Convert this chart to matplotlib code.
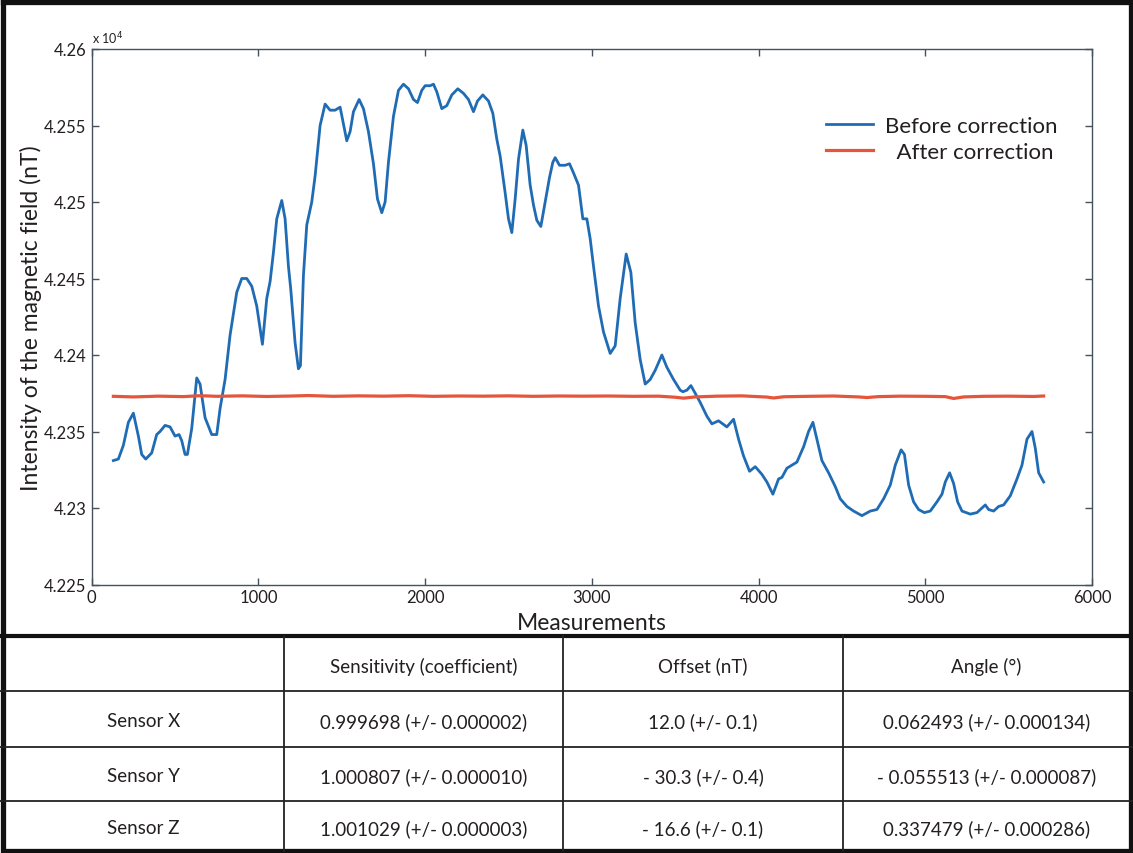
import matplotlib
matplotlib.use('Agg')
import matplotlib.pyplot as plt
from matplotlib.ticker import FuncFormatter

plt.rcParams['font.family'] = ['Lato', 'DejaVu Sans']

# ---------------- data ----------------
before_x = [130, 160, 190, 220, 250, 280, 300, 324, 360, 390,
            410, 440, 470, 500, 524, 540, 560, 574, 600, 630,
            650, 680, 720, 750, 770, 800, 830, 870, 900, 930,
            960, 990, 1024, 1050, 1070, 1090, 1110, 1140, 1160, 1180,
            1194, 1220, 1240, 1252, 1270, 1290, 1320, 1340, 1370, 1400,
            1430, 1460, 1490, 1530, 1550, 1570, 1604, 1630, 1660, 1690,
            1714, 1740, 1760, 1780, 1810, 1840, 1870, 1900, 1930, 1954,
            1980, 2000, 2030, 2050, 2070, 2100, 2130, 2160, 2196, 2230,
            2260, 2290, 2314, 2346, 2380, 2406, 2430, 2450, 2480, 2500,
            2520, 2540, 2560, 2586, 2606, 2630, 2650, 2670, 2694, 2720,
            2746, 2766, 2780, 2806, 2840, 2866, 2890, 2920, 2946, 2970,
            2990, 3010, 3040, 3070, 3110, 3140, 3170, 3206, 3234, 3260,
            3290, 3320, 3350, 3380, 3420, 3450, 3490, 3530, 3546, 3570,
            3594, 3620, 3650, 3690, 3720, 3760, 3810, 3850, 3880, 3910,
            3946, 3980, 4020, 4050, 4086, 4120, 4140, 4170, 4200, 4230,
            4270, 4300, 4326, 4350, 4380, 4420, 4460, 4490, 4530, 4570,
            4620, 4670, 4710, 4750, 4790, 4820, 4855, 4875, 4900, 4930,
            4960, 4994, 5030, 5070, 5100, 5120, 5146, 5170, 5194, 5220,
            5270, 5310, 5360, 5380, 5410, 5440, 5470, 5510, 5550, 5580,
            5610, 5640, 5660, 5680, 5710]
before_y = [42331, 42332, 42341, 42356, 42362, 42347, 42335, 42332, 42336, 42348,
            42350, 42354, 42353, 42347, 42348, 42344, 42335, 42335, 42352, 42385,
            42381, 42359, 42348, 42348, 42365, 42384, 42413, 42441, 42450, 42450,
            42445, 42432, 42407, 42437, 42448, 42467, 42489, 42501, 42489, 42458,
            42443, 42408, 42391, 42393, 42452, 42485, 42500, 42517, 42550, 42564,
            42560, 42560, 42562, 42540, 42546, 42559, 42567, 42561, 42546, 42525,
            42502, 42493, 42500, 42526, 42556, 42573, 42577, 42574, 42567, 42565,
            42573, 42576, 42576, 42577, 42572, 42561, 42563, 42570, 42574, 42571,
            42567, 42559, 42566, 42570, 42566, 42558, 42541, 42530, 42506, 42489,
            42480, 42502, 42528, 42547, 42537, 42511, 42498, 42488, 42484, 42500,
            42516, 42526, 42529, 42524, 42524, 42525, 42519, 42511, 42489, 42489,
            42476, 42458, 42432, 42415, 42401, 42406, 42437, 42466, 42454, 42421,
            42397, 42381, 42384, 42390, 42400, 42392, 42384, 42377, 42376, 42377,
            42380, 42375, 42369, 42360, 42355, 42357, 42353, 42358, 42345, 42334,
            42324, 42327, 42322, 42317, 42309, 42319, 42320, 42326, 42328, 42330,
            42340, 42350, 42356, 42345, 42331, 42323, 42314, 42306, 42301, 42298,
            42295, 42298, 42299, 42306, 42315, 42328, 42338, 42335, 42315, 42304,
            42299, 42297, 42298, 42304, 42309, 42317, 42323, 42316, 42304, 42298,
            42296, 42297, 42302, 42299, 42298, 42301, 42302, 42308, 42319, 42328,
            42345, 42350, 42339, 42323, 42317]

after_x = [130, 250, 400, 550, 650, 750, 900, 1050, 1200, 1300,
           1450, 1600, 1750, 1900, 2050, 2200, 2350, 2500, 2650, 2800,
           2950, 3100, 3250, 3400, 3500, 3550, 3620, 3750, 3900, 4050,
           4090, 4150, 4300, 4450, 4600, 4650, 4720, 4850, 5000, 5120,
           5170, 5230, 5350, 5500, 5650, 5710]
after_y = [42373.0, 42372.6, 42373.1, 42372.8, 42373.4, 42373.0, 42373.3, 42372.9, 42373.2, 42373.5,
           42373.0, 42373.3, 42373.1, 42373.4, 42373.0, 42373.2, 42373.1, 42373.3, 42373.0, 42373.2,
           42373.1, 42373.2, 42373.0, 42373.1, 42372.4, 42371.8, 42372.6, 42373.1, 42373.3, 42372.5,
           42371.9, 42372.7, 42373.0, 42373.2, 42372.6, 42372.2, 42372.8, 42373.1, 42373.0, 42372.8,
           42371.6, 42372.6, 42373.0, 42373.1, 42372.9, 42373.2]

x_ticks = [0, 1000, 2000, 3000, 4000, 5000, 6000]
y_ticks = [42250, 42300, 42350, 42400, 42450, 42500, 42550, 42600]

col_labels = ['', 'Sensitivity (coefficient)', 'Offset (nT)', 'Angle (°)']
row_labels = ['Sensor X', 'Sensor Y', 'Sensor Z']
sensitivity = ['0.999698 (+/- 0.000002)', '1.000807 (+/- 0.000010)', '1.001029 (+/- 0.000003)']
offset = ['12.0 (+/- 0.1)', '- 30.3 (+/- 0.4)', '- 16.6 (+/- 0.1)']
angle = ['0.062493 (+/- 0.000134)', '- 0.055513 (+/- 0.000087)', '0.337479 (+/- 0.000286)']

# ---------------- layout ----------------
W, H = 1133, 854
BLUE = '#1f6cb5'
RED = '#e4553c'
SPINE = '#45525e'
TXT = '#231f20'

fig = plt.figure(figsize=(W / 100, H / 100), dpi=100)
fig.patch.set_facecolor('white')

# background axes for frame and table (pixel coordinates)
bg = fig.add_axes([0, 0, 1, 1], zorder=0)
bg.set_xlim(0, W)
bg.set_ylim(H, 0)
bg.axis('off')

ax_l, ax_r, ax_t, ax_b = 91.7, 1092.0, 50.0, 585.5
ax = fig.add_axes([ax_l / W, 1 - ax_b / H, (ax_r - ax_l) / W, (ax_b - ax_t) / H], zorder=2)
ax.plot(before_x, before_y, color=BLUE, lw=2.0, label='Before correction', solid_joinstyle='round')
ax.plot(after_x, after_y, color=RED, lw=2.3, label='  After correction')
ax.set_xlim(0, 6000)
ax.set_ylim(42250, 42600)
ax.set_xticks(x_ticks)
ax.set_yticks(y_ticks)
ax.yaxis.set_major_formatter(FuncFormatter(lambda v, p: f'{v / 1e4:g}'))
ax.tick_params(direction='in', length=5, width=1, color=SPINE, top=True, right=True,
               labelsize=12, labelcolor=TXT)
ax.tick_params(axis='x', pad=3)
ax.tick_params(axis='y', pad=4)
for s in ax.spines.values():
    s.set_color(SPINE)
    s.set_linewidth(1.0)
ax.set_xlabel('Measurements', fontsize=16.5, color=TXT, labelpad=5)
ax.set_ylabel('Intensity of the magnetic field (nT)', fontsize=16.5, color=TXT, labelpad=1)
ax.text(0.0, 1.005, r'x 10$^{4}$', transform=ax.transAxes, fontsize=9, color=TXT,
        ha='left', va='bottom')

leg = ax.legend(loc='upper left', bbox_to_anchor=(826 / W, 1 - 117 / H),
                bbox_transform=fig.transFigure, frameon=False, fontsize=16,
                handlelength=2.1, handletextpad=0.55, labelspacing=0.25,
                borderpad=0, borderaxespad=0)
for t in leg.get_texts():
    t.set_color(TXT)

# outer frame and table
bg.plot([2.5, 1130.5, 1130.5, 2.5, 2.5], [2.5, 2.5, 851.5, 851.5, 2.5], color='#111111', lw=3.8,
        solid_joinstyle='miter')
bg.plot([0, W], [637, 637], color='#111111', lw=3.0)
col_edges = [3, 284, 563, 843, 1130]
row_edges = [637, 692, 748, 802, 852]
for yy in row_edges[1:-1]:
    bg.plot([0, W], [yy, yy], color='#222222', lw=1.3)
for xx in col_edges[1:-1]:
    bg.plot([xx, xx], [row_edges[0], row_edges[-1]], color='#222222', lw=1.3)

table_rows = [col_labels] + [[row_labels[i], sensitivity[i], offset[i], angle[i]]
                             for i in range(len(row_labels))]
for r, row in enumerate(table_rows):
    yc = (row_edges[r] + row_edges[r + 1]) / 2 + 2
    for c, txt in enumerate(row):
        xc = (col_edges[c] + col_edges[c + 1]) / 2
        bg.text(xc, yc, txt, ha='center', va='center', fontsize=13.5, color=TXT)

fig.savefig('out.png', dpi=100, facecolor='white')
